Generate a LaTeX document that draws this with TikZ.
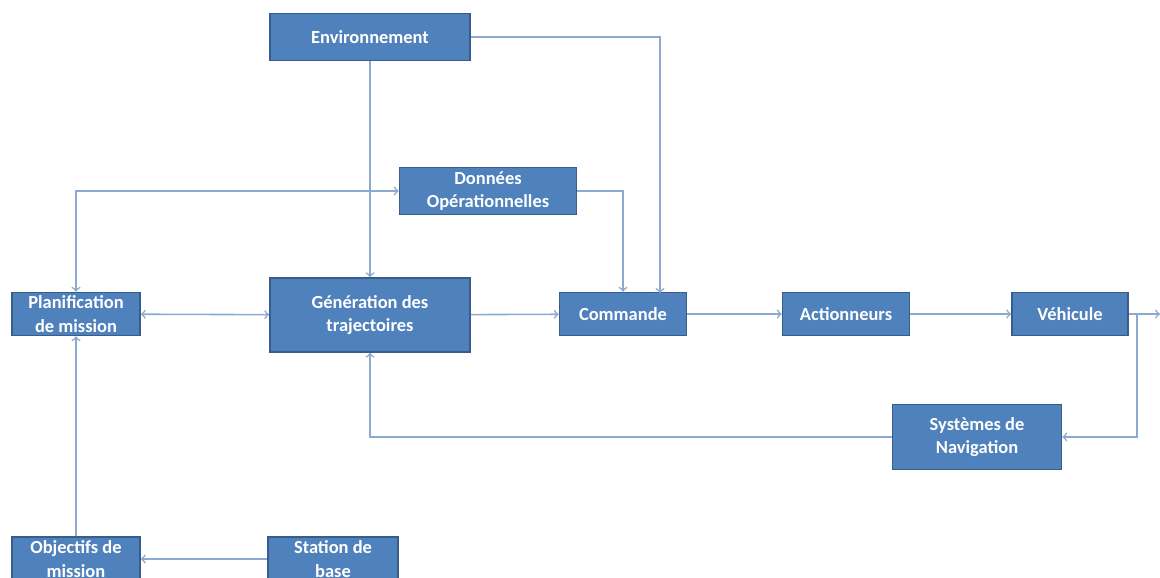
\documentclass[tikz,border=0pt]{standalone}
\usepackage{fontspec}
\setmainfont{Carlito}
\usetikzlibrary{arrows,positioning}
\definecolor{blkfill}{RGB}{79,129,189}
\definecolor{blkline}{RGB}{56,93,138}
\definecolor{wire}{RGB}{140,170,208}

\begin{document}
\begin{tikzpicture}[>=to, x=0.02cm, y=-0.02cm,
  blk/.style={draw=blkline, line width=0.9pt, fill=blkfill, text=white, align=center,
    font=\fontsize{10.5}{13.5}\selectfont\bfseries, inner sep=0pt},
  wr/.style={draw=wire, line width=0.9pt}]
%%
  \useasboundingbox (0,0) rectangle (1160,578);
  \node (env) at (370,37) [blk, minimum width=200*0.02cm, minimum height=47*0.02cm] {Environnement};
  \node (don) at (488,191) [blk, minimum width=177*0.02cm, minimum height=47*0.02cm] {Données\\Opérationnelles};
  \node (pla) at (76,314) [blk, minimum width=128*0.02cm, minimum height=43*0.02cm] {Planification\\de mission};
  \node (gen) at (370,315) [blk, minimum width=200*0.02cm, minimum height=74*0.02cm] {Génération des\\trajectoires};
  \node (com) at (623,314) [blk, minimum width=127*0.02cm, minimum height=43*0.02cm] {Commande};
  \node (act) at (846,314) [blk, minimum width=127*0.02cm, minimum height=43*0.02cm] {Actionneurs};
  \node (veh) at (1070,314) [blk, minimum width=116*0.02cm, minimum height=43*0.02cm] {Véhicule};
  \node (nav) at (977,437) [blk, minimum width=169*0.02cm, minimum height=65*0.02cm] {Systèmes de\\Navigation};
  \node (obj) at (76,559) [blk, minimum width=128*0.02cm, minimum height=44*0.02cm] {Objectifs de\\mission};
  \node (sta) at (333,559) [blk, minimum width=130*0.02cm, minimum height=44*0.02cm] {Station de\\base};
  \coordinate (out) at (1160,314);
  \coordinate (tap) at (1137,314);
  \coordinate (envc) at (660,293);
%
  \draw [wr,<->] (pla) -- (gen);
  \draw [wr,->] (gen) -- (com);
  \draw [wr,->] (com) -- (act);
  \draw [wr,->] (act) -- (veh);
  \draw [wr,->] (veh) -- (out);
  \draw [wr,->] (tap) |- (nav.east);
  \draw [wr,->] (nav.west) -| (gen.south);
  \draw [wr,->] (env) -- (gen);
  \draw [wr,->] (env.east) -| (envc);
  \draw [wr,->] (don.east) -| (com.north);
  \draw [wr,<->] (pla.north) |- (don.west);
  \draw [wr,->] (sta) -- (obj);
  \draw [wr,->] (obj) -- (pla);
%
\end{tikzpicture}
\end{document}
